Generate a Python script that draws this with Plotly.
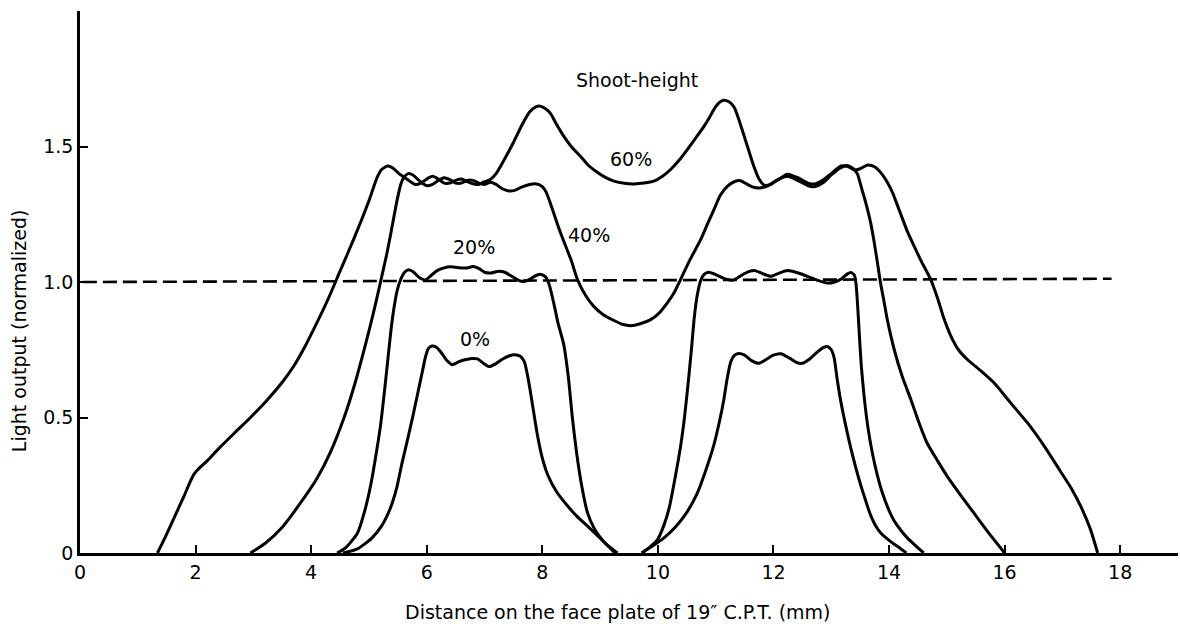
import plotly.graph_objects as go

# ---------------- data ----------------
# 0 % shoot-height: two separate humps
x0_left = [4.55, 4.8, 5.05, 5.22, 5.37, 5.48, 5.57, 5.67, 5.76, 5.85, 5.92, 5.98, 6.03, 6.09, 6.16, 6.25,
           6.35, 6.44, 6.55, 6.66, 6.78, 6.88, 6.98, 7.08, 7.19, 7.3, 7.42, 7.52, 7.62, 7.69, 7.74, 7.79,
           7.85, 7.92, 8.0, 8.1, 8.25, 8.42, 8.6, 8.78, 8.95, 9.12, 9.3]
y0_left = [0, 0.015, 0.055, 0.10, 0.165, 0.24, 0.33, 0.42, 0.505, 0.595, 0.665, 0.725, 0.755, 0.764, 0.76, 0.74,
           0.71, 0.695, 0.705, 0.713, 0.718, 0.716, 0.70, 0.688, 0.698, 0.714, 0.727, 0.732, 0.726, 0.705, 0.66, 0.60,
           0.52, 0.43, 0.35, 0.285, 0.225, 0.178, 0.135, 0.10, 0.065, 0.03, 0]
x0_right = [9.72, 9.9, 10.1, 10.3, 10.5, 10.68, 10.82, 10.97, 11.07, 11.14, 11.2, 11.26, 11.32, 11.4, 11.5,
            11.62, 11.75, 11.88, 12.0, 12.13, 12.27, 12.4, 12.5, 12.62, 12.75, 12.86, 12.93, 13.0, 13.05, 13.1,
            13.16, 13.25, 13.34, 13.43, 13.51, 13.6, 13.68, 13.77, 13.86, 13.98, 14.09, 14.2, 14.3]
y0_right = [0, 0.025, 0.055, 0.095, 0.15, 0.22, 0.30, 0.40, 0.49, 0.565, 0.645, 0.705, 0.728, 0.736, 0.73,
            0.71, 0.70, 0.715, 0.73, 0.735, 0.72, 0.703, 0.70, 0.715, 0.74, 0.758, 0.762, 0.75, 0.72, 0.645,
            0.565, 0.47, 0.385, 0.31, 0.25, 0.19, 0.14, 0.10, 0.073, 0.05, 0.032, 0.016, 0]

# 20 % shoot-height: two separate humps
x20_left = [4.45, 4.6, 4.8, 4.92, 5.03, 5.12, 5.2, 5.27, 5.33, 5.38, 5.43, 5.49, 5.55, 5.62, 5.69, 5.78,
            5.88, 5.98, 6.08, 6.18, 6.3, 6.41, 6.55, 6.7, 6.8, 6.9, 7.0, 7.11, 7.22, 7.35, 7.48, 7.6, 7.68,
            7.78, 7.9, 7.98, 8.06, 8.12, 8.2, 8.27, 8.37, 8.45, 8.52, 8.6, 8.68, 8.78, 8.9, 9.05, 9.26]
y20_left = [0, 0.02, 0.073, 0.15, 0.25, 0.36, 0.47, 0.6, 0.72, 0.82, 0.90, 0.97, 1.01, 1.037, 1.045, 1.035,
            1.015, 1.008, 1.025, 1.042, 1.052, 1.056, 1.053, 1.052, 1.057, 1.05, 1.036, 1.033, 1.039, 1.036, 1.02, 1.005, 1.002,
            1.01, 1.025, 1.028, 1.018, 0.99, 0.92, 0.85, 0.77, 0.65, 0.50, 0.36, 0.25, 0.15, 0.09, 0.045, 0]
x20_right = [9.72, 9.85, 9.99, 10.1, 10.2, 10.3, 10.39, 10.46, 10.52, 10.58, 10.63, 10.68, 10.74, 10.8, 10.88,
             10.97, 11.1, 11.22, 11.32, 11.45, 11.57, 11.68, 11.8, 11.95, 12.1, 12.24, 12.4, 12.59, 12.78, 12.93,
             13.06, 13.18, 13.28, 13.34, 13.4, 13.43, 13.46, 13.49, 13.52, 13.57, 13.63, 13.71, 13.8, 13.88,
             13.97, 14.08, 14.2, 14.32, 14.43, 14.52, 14.6]
y20_right = [0, 0.02, 0.048, 0.1, 0.17, 0.28, 0.39, 0.50, 0.62, 0.75, 0.87, 0.95, 1.005, 1.028, 1.036,
             1.03, 1.017, 1.008, 1.008, 1.025, 1.038, 1.042, 1.032, 1.021, 1.033, 1.042, 1.035, 1.021, 1.005, 0.996,
             1.0, 1.012, 1.03, 1.035, 1.025, 0.99, 0.90, 0.79, 0.69, 0.575, 0.47, 0.37, 0.285, 0.225,
             0.172, 0.122, 0.085, 0.055, 0.033, 0.015, 0]

# 40 % shoot-height
x40 = [2.95, 3.2, 3.5, 3.8, 4.1, 4.34, 4.57, 4.75, 4.91, 5.03, 5.12, 5.2, 5.3, 5.37, 5.44, 5.49, 5.55, 5.6,
       5.68, 5.76, 5.84, 5.92, 6.0, 6.1, 6.2, 6.3, 6.4, 6.5, 6.6, 6.7, 6.8, 6.9, 7.0, 7.1, 7.2, 7.3, 7.42,
       7.52, 7.64, 7.78, 7.9, 8.0, 8.07, 8.14, 8.22, 8.3, 8.39, 8.5, 8.61, 8.75, 8.89, 9.05, 9.24, 9.4, 9.53,
       9.68, 9.875, 10.02, 10.16, 10.28, 10.39, 10.55, 10.74, 10.87, 10.97, 11.08, 11.2, 11.32, 11.43, 11.55,
       11.65, 11.75, 11.9, 12.05, 12.24, 12.42, 12.6, 12.72, 12.85, 13.0, 13.15, 13.27, 13.37, 13.45, 13.52,
       13.6, 13.68, 13.74, 13.8, 13.85, 13.92, 13.97, 14.09, 14.23, 14.38, 14.52, 14.66, 14.84, 15.01, 15.25,
       15.47, 15.72, 16.0]
y40 = [0, 0.035, 0.095, 0.18, 0.275, 0.375, 0.50, 0.62, 0.745, 0.845, 0.925, 1.0, 1.095, 1.17, 1.25, 1.305, 1.36, 1.385,
       1.40, 1.395, 1.38, 1.365, 1.355, 1.36, 1.375, 1.385, 1.378, 1.365, 1.365, 1.375, 1.375, 1.365, 1.36, 1.368, 1.36, 1.345, 1.336,
       1.338, 1.35, 1.36, 1.362, 1.352, 1.33, 1.29, 1.24, 1.19, 1.14, 1.08, 1.008, 0.95, 0.91, 0.88, 0.858, 0.843, 0.839,
       0.845, 0.861, 0.885, 0.922, 0.96, 1.008, 1.08, 1.156, 1.22, 1.267, 1.32, 1.353, 1.37, 1.374, 1.36,
       1.35, 1.347, 1.355, 1.375, 1.39, 1.375, 1.355, 1.352, 1.365, 1.395, 1.42, 1.43, 1.42, 1.40, 1.35,
       1.29, 1.22, 1.15, 1.07, 1.0, 0.92, 0.861, 0.75, 0.65, 0.565, 0.48, 0.405, 0.34, 0.282, 0.21,
       0.147, 0.075, 0]

# 60 % shoot-height
x60 = [1.34, 1.5, 1.65, 1.8, 1.9, 1.97, 2.05, 2.2, 2.4, 2.66, 2.95, 3.24, 3.5, 3.7, 3.9, 4.1, 4.3, 4.5,
       4.74, 5.0, 5.14, 5.22, 5.32, 5.42, 5.52, 5.62, 5.72, 5.8, 5.9, 6.0, 6.1, 6.2, 6.3, 6.4,
       6.5, 6.6, 6.7, 6.8, 6.9, 7.0, 7.1, 7.2, 7.35, 7.5, 7.65, 7.78, 7.88, 7.96, 8.05, 8.14, 8.25, 8.37,
       8.5, 8.66, 8.8, 8.95, 9.1, 9.24, 9.42, 9.59, 9.76, 9.93, 10.08, 10.22, 10.37, 10.51, 10.65, 10.8,
       10.9, 10.97, 11.06, 11.14, 11.23, 11.32, 11.4, 11.49, 11.58, 11.66, 11.75, 11.84, 11.95, 12.1, 12.24,
       12.42, 12.6, 12.72, 12.85, 13.0, 13.17, 13.3, 13.4, 13.5, 13.63, 13.75, 13.87, 13.97, 14.06, 14.15,
       14.32, 14.45, 14.55, 14.72, 14.84, 14.95, 15.07, 15.2, 15.36, 15.6, 15.82, 16.1, 16.4, 16.7, 16.97,
       17.15, 17.32, 17.48, 17.61]
y60 = [0, 0.07, 0.14, 0.21, 0.26, 0.29, 0.31, 0.34, 0.385, 0.44, 0.50, 0.565, 0.63, 0.69, 0.765, 0.85, 0.94, 1.04,
       1.16, 1.30, 1.385, 1.415, 1.428, 1.42, 1.40, 1.385, 1.37, 1.36, 1.365, 1.38, 1.39, 1.38, 1.365, 1.365,
       1.375, 1.38, 1.37, 1.362, 1.36, 1.37, 1.378, 1.40, 1.455, 1.515, 1.58, 1.627, 1.645, 1.649, 1.64, 1.622, 1.58, 1.538,
       1.5, 1.464, 1.43, 1.405, 1.385, 1.372, 1.364, 1.362, 1.365, 1.372, 1.39, 1.415, 1.45, 1.489, 1.53, 1.575,
       1.61, 1.637, 1.662, 1.671, 1.665, 1.645, 1.60, 1.54, 1.48, 1.427, 1.38, 1.357, 1.36, 1.38, 1.398,
       1.385, 1.365, 1.362, 1.375, 1.40, 1.428, 1.425, 1.413, 1.418, 1.432, 1.425, 1.40, 1.368, 1.33, 1.28,
       1.185, 1.125, 1.08, 1.01, 0.94, 0.865, 0.80, 0.75, 0.713, 0.67, 0.627, 0.555, 0.479, 0.39, 0.30,
       0.24, 0.171, 0.09, 0]

# reference level (dashed)
x_ref = [0.05, 17.85]
y_ref = [1.0, 1.012]

x_tick_vals = [0, 2, 4, 6, 8, 10, 12, 14, 16, 18]
x_tick_text = ["0", "2", "4", "6", "8", "10", "12", "14", "16", "18"]
y_tick_vals = [0, 0.5, 1.0, 1.5]
y_tick_text = ["0", "0.5", "1.0", "1.5"]

curve_labels = ["Shoot-height", "60%", "40%", "20%", "0%"]
label_x = [9.64, 9.53, 8.80, 6.81, 6.83]
label_y = [1.747, 1.454, 1.175, 1.129, 0.789]

x_title = "Distance on the face plate of 19\u2033 C.P.T. (mm)"
y_title = "Light output (normalized)"

# ---------------- figure ----------------
FONT = "DejaVu Sans, Liberation Sans, sans-serif"
line_style = dict(color="black", width=3, shape="spline", smoothing=0.6)

fig = go.Figure()
for xs, ys in [(x60, y60), (x40, y40), (x20_left, y20_left), (x20_right, y20_right),
               (x0_left, y0_left), (x0_right, y0_right)]:
    fig.add_trace(go.Scatter(x=xs, y=ys, mode="lines", line=line_style,
                             showlegend=False, hoverinfo="skip"))

fig.add_trace(go.Scatter(x=x_ref, y=y_ref, mode="lines",
                         line=dict(color="black", width=2.6, dash="14px,6px"),
                         showlegend=False, hoverinfo="skip"))

for t, lx, ly in zip(curve_labels, label_x, label_y):
    fig.add_annotation(x=lx, y=ly, text=t, showarrow=False,
                       font=dict(family=FONT, size=19, color="black"),
                       xanchor="center", yanchor="middle")

fig.add_annotation(xref="paper", yref="paper", x=0.49, y=-0.109, text=x_title,
                   showarrow=False, xanchor="center", yanchor="middle",
                   font=dict(family=FONT, size=19, color="black"))
fig.add_annotation(xref="paper", yref="paper", x=-0.0556, y=0.411, text=y_title,
                   showarrow=False, xanchor="center", yanchor="middle", textangle=-90,
                   font=dict(family=FONT, size=19, color="black"))

fig.update_layout(
    width=1180, height=629,
    margin=dict(l=80, r=2, t=11, b=76),
    paper_bgcolor="white", plot_bgcolor="white",
    font=dict(family=FONT, size=19, color="black"),
)
fig.update_xaxes(range=[0, 19], showgrid=False, zeroline=False,
                 showline=True, linecolor="black", linewidth=2.5,
                 ticks="inside", ticklen=8, tickwidth=2, tickcolor="black",
                 tickvals=x_tick_vals, ticktext=x_tick_text,
                 tickfont=dict(family=FONT, size=19, color="black"))
fig.update_yaxes(range=[0, 2], showgrid=False, zeroline=False,
                 showline=True, linecolor="black", linewidth=2.5,
                 ticks="inside", ticklen=8, tickwidth=2, tickcolor="black",
                 tickvals=y_tick_vals, ticktext=y_tick_text,
                 tickfont=dict(family=FONT, size=19, color="black"))

fig.write_html("out.html")
